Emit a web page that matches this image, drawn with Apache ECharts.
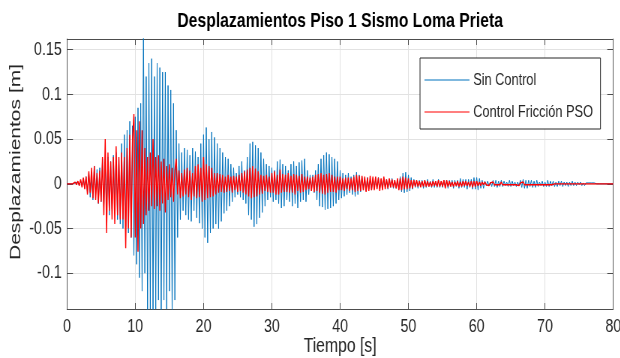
<!DOCTYPE html>
<html>
<head>
<meta charset="utf-8">
<script src="https://cdn.jsdelivr.net/npm/echarts@6/dist/echarts.min.js"></script>
<style>
  html, body { margin: 0; padding: 0; overflow: hidden; background: #fff; }
  #frame { width: 620px; height: 358px; overflow: hidden; position: relative; }
  /* the figure is drawn wide and squeezed horizontally to its final 620 px */
  #chart { position: absolute; left: 0; top: 0; width: 827px; height: 358px;
           transform: scaleX(0.75); transform-origin: 0 0; }
</style>
</head>
<body>
<div id="frame"><div id="chart"></div></div>
<script>
// Sampling step of both records [s]
const STEP = 0.2;

const titleText = 'Desplazamientos Piso 1 Sismo Loma Prieta';
const xName = 'Tiempo [s]';
const yName = 'Desplazamientos [m]';
const seriesNames = ['Sin Control', 'Control Fricción PSO'];
const xTicks = [0, 10, 20, 30, 40, 50, 60, 70, 80];

// Floor 1 displacement without control [m], one row per second
const sinControl = [
  0,0,0,0,0,
  0,0.001,-0.001,0.002,-0.002,
  0.004,-0.003,0.006,-0.005,0.008,
  -0.01,0.012,-0.015,0.01,-0.018,
  0.02,-0.012,0.016,-0.022,0.018,
  -0.02,0.028,-0.025,0.022,-0.03,
  0.03,-0.035,0.025,-0.028,0.032,
  -0.03,0.035,-0.04,0.03,-0.045,
  0.045,-0.05,0.055,-0.048,0.06,
  -0.055,0.07,-0.06,0.065,-0.08,
  // 10 s
  0.075,-0.09,0.085,-0.105,0.09,
  -0.12,0.17,-0.1,0.12,-0.145,
  0.135,-0.14,0.14,-0.145,0.12,
  -0.14,0.135,-0.13,0.13,-0.145,
  0.125,-0.13,0.125,-0.14,0.11,
  -0.12,0.105,-0.145,0.09,-0.13,
  0.06,-0.06,0.045,-0.04,0.035,
  -0.03,0.04,-0.035,0.038,-0.04,
  0.032,-0.042,0.04,-0.03,0.036,
  -0.038,0.03,-0.044,0.045,-0.05,
  // 20 s
  0.055,-0.06,0.063,-0.066,0.05,
  -0.055,0.058,-0.05,0.052,-0.045,
  0.045,-0.05,0.04,-0.042,0.035,
  -0.033,0.03,-0.03,0.028,-0.025,
  0.022,-0.02,0.018,-0.015,0.012,
  -0.012,0.02,-0.015,0.025,-0.018,
  0.015,-0.022,0.03,-0.035,0.045,
  -0.04,0.047,-0.048,0.043,-0.045,
  0.04,-0.038,0.035,-0.032,0.028,
  -0.025,0.022,-0.018,0.02,-0.015,
  // 30 s
  0.018,-0.02,0.015,-0.018,0.025,
  -0.022,0.027,-0.027,0.022,-0.025,
  0.02,-0.018,0.015,-0.02,0.022,
  -0.025,0.025,-0.022,0.02,-0.027,
  0.024,-0.02,0.026,-0.018,0.028,
  -0.02,0.015,-0.012,0.01,-0.008,
  0.01,-0.01,0.015,-0.018,0.022,
  -0.025,0.028,-0.026,0.032,-0.029,
  0.035,-0.028,0.033,-0.027,0.03,
  -0.025,0.028,-0.022,0.025,-0.018,
  // 40 s
  0.015,-0.016,0.012,-0.014,0.01,
  -0.012,0.012,-0.01,0.008,-0.012,
  0.01,-0.014,0.013,-0.012,0.01,
  -0.009,0.008,-0.007,0.006,-0.008,
  0.007,-0.006,0.005,-0.007,0.006,
  -0.005,0.006,-0.005,0.007,-0.006,
  0.005,-0.005,0.006,-0.004,0.005,
  -0.006,0.005,-0.004,0.006,-0.005,
  0.004,-0.005,0.004,-0.006,0.008,
  -0.009,0.012,-0.01,0.013,-0.009,
  // 50 s
  0.01,-0.008,0.007,-0.006,0.005,
  -0.004,0.004,-0.005,0.004,-0.003,
  0.004,-0.005,0.004,-0.004,0.005,
  -0.003,0.003,-0.004,0.005,-0.004,
  0.003,-0.004,0.005,-0.004,0.003,
  -0.004,0.004,-0.003,0.004,-0.005,
  0.004,-0.003,0.004,-0.005,0.004,
  -0.003,0.004,-0.005,0.006,-0.004,
  0.005,-0.004,0.005,-0.006,0.005,
  -0.004,0.005,-0.006,0.007,-0.006,
  // 60 s
  0.007,-0.007,0.006,-0.005,0.004,
  -0.005,0.003,-0.002,0.003,-0.002,
  0.002,-0.003,0.004,-0.003,0.004,
  -0.004,0.003,-0.003,0.004,-0.003,
  0.003,-0.002,0.002,-0.003,0.004,
  -0.003,0.003,-0.002,0.002,-0.003,
  0.002,-0.002,0.004,-0.004,0.005,
  -0.005,0.004,-0.005,0.004,-0.003,
  0.004,-0.004,0.003,-0.004,0.004,
  -0.003,0.002,-0.002,0.003,-0.003,
  // 70 s
  0.002,-0.003,0.004,-0.003,0.003,
  -0.002,0.003,-0.003,0.002,-0.003,
  0.003,-0.002,0.003,-0.003,0.002,
  -0.002,0.002,-0.003,0.002,-0.002,
  0.003,-0.002,0.002,-0.002,0.002,
  -0.001,0.002,-0.002,0.001,-0.002,
  0.001,-0.001,0.001,-0.001,0.001,
  -0.001,0.001,-0.001,0,0,
  0,0,0,0,0,
  0,0,0,0,0,
  // 80 s
  0
];

// Floor 1 displacement with PSO-tuned friction control [m], one row per second
const controlPSO = [
  0,0,0,0,0,
  0,0.002,-0.001,0.003,-0.002,
  0.005,-0.004,0.007,-0.006,0.008,
  -0.012,0.014,-0.01,0.018,-0.016,
  0.02,-0.018,0.012,-0.022,0.015,
  -0.02,0.03,-0.035,0.05,-0.055,
  0.035,-0.03,0.025,-0.04,0.03,
  -0.045,0.042,-0.035,0.03,-0.04,
  0.035,-0.04,0.03,-0.072,0.04,
  -0.05,0.055,-0.06,0.05,0.078,
  // 10 s
  -0.06,0.06,-0.076,0.07,-0.05,
  0.06,-0.045,0.04,-0.035,0.03,
  -0.03,0.035,-0.025,0.05,-0.028,
  0.03,-0.025,0.032,-0.03,0.025,
  -0.022,0.028,-0.032,0.02,-0.018,
  0.022,-0.015,0.018,-0.02,0.015,
  0.028,-0.012,0.015,-0.016,0.012,
  -0.014,0.016,-0.012,0.018,-0.015,
  0.015,-0.018,0.012,-0.014,0.02,
  -0.016,0.022,-0.015,0.018,-0.02,
  // 20 s
  0.03,-0.018,0.022,-0.016,0.02,
  -0.015,0.018,-0.014,0.012,-0.012,
  0.012,-0.01,0.011,-0.009,0.01,
  -0.01,0.008,-0.009,0.01,-0.008,
  0.008,-0.01,0.009,-0.007,0.008,
  -0.009,0.01,-0.008,0.012,-0.01,
  0.014,-0.012,0.016,-0.014,0.018,
  -0.016,0.02,-0.015,0.017,-0.014,
  0.014,-0.012,0.01,-0.011,0.009,
  -0.008,0.01,-0.009,0.008,-0.01,
  // 30 s
  0.012,-0.01,0.014,-0.012,0.01,
  -0.012,0.016,-0.01,0.011,-0.009,
  0.01,-0.009,0.012,-0.01,0.009,
  -0.01,0.011,-0.012,0.01,-0.008,
  0.009,-0.01,0.011,-0.009,0.008,
  -0.007,0.008,-0.006,0.007,-0.008,
  0.008,-0.009,0.01,-0.008,0.011,
  -0.01,0.012,-0.011,0.01,-0.012,
  0.011,-0.01,0.012,-0.009,0.01,
  -0.009,0.008,-0.01,0.008,-0.007,
  // 40 s
  0.008,-0.007,0.006,-0.008,0.007,
  -0.006,0.007,-0.008,0.006,-0.007,
  0.008,-0.009,0.01,-0.008,0.009,
  -0.008,0.009,-0.007,0.008,-0.009,
  0.007,-0.008,0.009,-0.007,0.008,
  -0.007,0.008,-0.006,0.007,-0.008,
  0.006,-0.007,0.008,-0.006,0.005,
  -0.005,0.006,-0.004,0.005,-0.004,
  0.004,-0.005,0.006,-0.007,0.006,
  -0.007,0.008,-0.006,0.007,-0.006,
  // 50 s
  0.006,-0.005,0.004,-0.005,0.004,
  -0.003,0.004,-0.003,0.003,-0.004,
  0.003,-0.003,0.004,-0.003,0.003,
  -0.003,0.002,-0.003,0.003,-0.002,
  0.003,-0.003,0.004,-0.003,0.003,
  -0.003,0.004,-0.005,0.004,-0.003,
  0.003,-0.003,0.002,-0.003,0.002,
  -0.002,0.003,-0.003,0.002,-0.003,
  0.003,-0.002,0.003,-0.002,0.002,
  -0.003,0.003,-0.004,0.003,-0.003,
  // 60 s
  0.003,-0.002,0.002,-0.002,0.002,
  -0.001,0.002,-0.001,0.001,-0.002,
  0.001,-0.001,0.002,-0.001,0.001,
  -0.001,0.001,-0.001,0.002,-0.001,
  0.001,-0.001,0.001,-0.001,0.001,
  -0.001,0.001,-0.001,0.001,-0.001,
  0.001,-0.002,0.001,-0.001,0.002,
  -0.001,0.001,-0.001,0.001,-0.001,
  0.001,-0.001,0.001,-0.001,0.001,
  -0.001,0.001,-0.001,0.001,-0.001,
  // 70 s
  0.001,-0.001,0.001,-0.001,0.001,
  -0.001,0.001,0,0,0,
  0,0,0,0,0,
  0,0,0,0,0,
  0,0,0,0,0,
  0,0,0,0,0,
  0,0,0,0,0,
  0,0,0,0,0,
  0,0,0,0,0,
  0,0,0,0,0,
  // 80 s
  0
];

function toPairs(values) {
  return values.map((v, i) => [+(i * STEP).toFixed(1), v]);
}

const FONT = '"Liberation Sans", Arial, Helvetica, sans-serif';
const INK = '#262626';
const BOX = '#4d4d4d';
const GRIDLINE = '#e2e2e2';

const chart = echarts.init(document.getElementById('chart'), null, { renderer: 'canvas' });

function yLabel(v) {
  const k = v / 0.05;
  if (Math.abs(k - Math.round(k)) > 1e-6) return '';
  return String(+v.toFixed(3));
}

const xCommon = {
  type: 'value', min: xTicks[0], max: xTicks[xTicks.length - 1], interval: 10
};
const yCommon = {
  type: 'value', min: -0.14, max: 0.162, splitNumber: 6
};

chart.setOption({
  animation: false,
  backgroundColor: '#fff',
  textStyle: { fontFamily: FONT },
  grid: { left: 89.3, right: 9.3, top: 39, bottom: 49, containLabel: false, outerBoundsMode: 'none' },
  graphic: [
    {
      type: 'text',
      x: 453.5, y: 21,
      style: {
        text: titleText,
        align: 'center', verticalAlign: 'middle',
        textAlign: 'center', textVerticalAlign: 'middle',
        font: 'bold 21px ' + FONT,
        fill: '#000'
      }
    },
    {
      type: 'text',
      x: 21, y: 162,
      rotation: Math.PI / 2,
      style: {
        text: yName,
        align: 'center', verticalAlign: 'middle',
        textAlign: 'center', textVerticalAlign: 'middle',
        font: '21px ' + FONT,
        fill: INK
      }
    }
  ],
  legend: {
    orient: 'vertical',
    left: 560, top: 58,
    padding: [13, 10, 8, 6],
    itemGap: 14,
    itemWidth: 60, itemHeight: 1.2,
    icon: 'rect',
    backgroundColor: '#fff',
    borderColor: '#262626', borderWidth: 1, borderRadius: 0,
    textStyle: { fontSize: 17, color: INK, fontFamily: FONT, lineHeight: 18 },
    data: seriesNames
  },
  xAxis: [
    Object.assign({}, xCommon, {
      position: 'bottom',
      name: xName, nameLocation: 'middle', nameGap: 27, nameMoveOverlap: false,
      nameTextStyle: { fontSize: 21, color: INK, fontFamily: FONT },
      axisLine: { show: true, onZero: false, lineStyle: { color: BOX, width: 1 } },
      axisTick: { show: true, inside: true, length: 6, lineStyle: { color: BOX } },
      axisLabel: { fontSize: 19, color: INK, margin: 8, fontFamily: FONT },
      splitLine: { show: true, lineStyle: { color: GRIDLINE, width: 1 } }
    }),
    Object.assign({}, xCommon, {
      position: 'top',
      axisLine: { show: true, onZero: false, lineStyle: { color: BOX, width: 1 } },
      axisTick: { show: true, inside: true, length: 6, lineStyle: { color: BOX } },
      axisLabel: { show: false },
      splitLine: { show: false }
    })
  ],
  yAxis: [
    Object.assign({}, yCommon, {
      position: 'left',
      axisLine: { show: true, onZero: false, lineStyle: { color: BOX, width: 1 } },
      axisTick: { show: true, inside: true, length: 8, lineStyle: { color: BOX } },
      axisLabel: { fontSize: 19, color: INK, margin: 7, fontFamily: FONT,
        showMinLabel: false, showMaxLabel: false, formatter: yLabel },
      splitLine: { show: true, lineStyle: { color: GRIDLINE, width: 1 } }
    }),
    Object.assign({}, yCommon, {
      position: 'right',
      axisLine: { show: true, onZero: false, lineStyle: { color: BOX, width: 1 } },
      axisTick: { show: true, inside: true, length: 8, lineStyle: { color: BOX } },
      axisLabel: { show: false },
      splitLine: { show: false }
    })
  ],
  series: [
    {
      name: seriesNames[0], type: 'line',
      xAxisIndex: 0, yAxisIndex: 0,
      data: toPairs(sinControl),
      showSymbol: false, symbol: 'none', sampling: 'none', clip: true,
      lineStyle: { color: '#0072BD', width: 1 },
      itemStyle: { color: '#0072BD' },
      z: 2
    },
    {
      name: seriesNames[1], type: 'line',
      xAxisIndex: 0, yAxisIndex: 0,
      data: toPairs(controlPSO),
      showSymbol: false, symbol: 'none', sampling: 'none', clip: true,
      lineStyle: { color: '#FF0000', width: 1.4 },
      itemStyle: { color: '#FF0000' },
      z: 3
    }
  ]
});
</script>
</body>
</html>
